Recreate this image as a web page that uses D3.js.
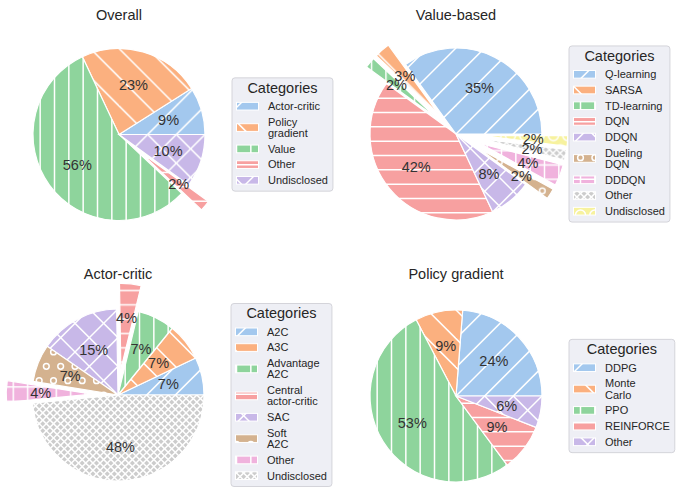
<!DOCTYPE html>
<html>
<head>
<meta charset="utf-8">
<script src="https://cdn.jsdelivr.net/npm/d3@7"></script>
<style>
  body { margin: 0; background: #fff; }
  text { font-family: "Liberation Sans", Arial, sans-serif; fill: #262626; }
</style>
</head>
<body>
<svg id="chart" width="680" height="494"></svg>
<script>
// shares (percent, counter-clockwise from 3 o'clock)
const overallCats = ["Actor-critic", "Policy\ngradient", "Value", "Other", "Undisclosed"];
const overallShares = [9, 23, 56, 2, 10];
const overallPulled = [0, 0, 0, 0.3, 0];

const valueCats = ["Q-learning", "SARSA", "TD-learning", "DQN", "DDQN", "Dueling\nDQN", "DDDQN", "Other", "Undisclosed"];
const valueShares = [35, 3, 2, 42, 8, 2, 4, 2, 2];
const valuePulled = [0, 0.3, 0.3, 0, 0, 0.3, 0.3, 0.3, 0.3];

const actorCats = ["A2C", "A3C", "Advantage\nA2C", "Central\nactor-critic", "SAC", "Soft\nA2C", "Other", "Undisclosed"];
const actorShares = [7, 7, 7, 4, 15, 7, 4, 48];
const actorPulled = [0, 0, 0, 0.3, 0, 0, 0.3, 0];

const policyCats = ["DDPG", "Monte\nCarlo", "PPO", "REINFORCE", "Other"];
const policyShares = [24, 9, 53, 9, 6];
const policyPulled = [0, 0, 0, 0, 0];

// seaborn-ish pastel colours + the hatch cycle used for the wedges
const palette = ["#a3c8ee", "#fbb07f", "#8ed49c", "#f7a0a0", "#c8b8e8", "#d4b28f", "#f0b2dd", "#cccccc", "#f7f29e"];
const hatches = ["/", "\\", "|", "-", "x", "o", "+", "xxxx", "O"];

const R = 86;   // pie radius
const U = 86;   // hatch tile ("one inch")

const svg = d3.select("#chart");
const defs = svg.append("defs");

function count(str, ch) { return str.split(ch).length - 1; }

// build a hatch pattern roughly the way matplotlib does it
function makePattern(i) {
  const h = hatches[i];
  const pat = defs.append("pattern")
    .attr("id", "h" + i)
    .attr("patternUnits", "userSpaceOnUse")
    .attr("width", U).attr("height", U);
  pat.append("rect").attr("width", U).attr("height", U).attr("fill", palette[i]);
  const g = pat.append("g").attr("stroke", "#fff").attr("stroke-width", 1.5).attr("fill", "none");
  const P = (x, y) => [x * U, (1 - y) * U];
  const seg = (a, b) => g.append("line")
    .attr("x1", a[0]).attr("y1", a[1]).attr("x2", b[0]).attr("y2", b[1]);

  let n = 6 * (count(h, "/") + count(h, "x"));
  for (let k = 0; k <= n && n > 0; k++) {
    const s = -0.5 + k / n;
    seg(P(s, -s), P(1 + s, 1 - s));
  }
  n = 6 * (count(h, "\\") + count(h, "x"));
  for (let k = 0; k <= n && n > 0; k++) {
    const s = -0.5 + k / n;
    seg(P(s, 1 + s), P(1 + s, s));
  }
  n = 6 * (count(h, "-") + count(h, "+"));
  for (let k = 0; k < n; k++) {
    const y = (k + 0.5) / n;
    seg(P(0, y), P(1, y));
  }
  n = 6 * (count(h, "|") + count(h, "+"));
  for (let k = 0; k < n; k++) {
    const x = (k + 0.5) / n;
    seg(P(x, 0), P(x, 1));
  }
  // small and large circles
  [["o", 0.2], ["O", 0.35]].forEach(function(c) {
    const rows = 6 * count(h, c[0]);
    if (!rows) return;
    const off = 1 / rows;
    for (let r = 0; r <= rows; r++) {
      const y = r / rows;
      const cols = r % 2 == 0
        ? d3.range(rows + 1).map(k => k / rows)
        : d3.range(rows).map(k => off / 2 + k * off);
      cols.forEach(function(x) {
        const p = P(x, y);
        g.append("circle").attr("cx", p[0]).attr("cy", p[1]).attr("r", off * c[1] * U);
      });
    }
  });
}
palette.forEach((c, i) => makePattern(i));

function drawLegend(x, cy, cats) {
  const rows = cats.map(c => c.split("\n"));
  const heights = rows.map(l => 15.7 + (l.length - 1) * 11.3);
  const H = 20.5 + d3.sum(heights) + 3;
  const top = cy - H / 2;

  const g = svg.append("g");
  const box = g.append("rect")
    .attr("x", x).attr("y", top)
    .attr("height", H)
    .attr("rx", 3)
    .attr("fill", "#eeeff5")
    .attr("stroke", "#d4d4da")
    .attr("stroke-width", 1);
  const title = g.append("text")
    .attr("y", top + 14.7)
    .attr("text-anchor", "middle")
    .style("font-size", "14.5px")
    .text("Categories");

  let y = top + 20.5;
  let maxW = 0;
  rows.forEach(function(lines, i) {
    const mid = y + heights[i] / 2;
    g.append("rect")
      .attr("x", x + 4.5).attr("y", mid - 3.85)
      .attr("width", 22).attr("height", 7.7)
      .attr("fill", "url(#h" + i + ")")
      .attr("stroke", "#fff").attr("stroke-width", 1);
    lines.forEach(function(t, j) {
      const txt = g.append("text")
        .attr("x", x + 36)
        .attr("y", mid + (j - (lines.length - 1) / 2) * 11.2)
        .attr("dy", "0.35em")
        .style("font-size", "11px")
        .text(t);
      maxW = Math.max(maxW, txt.node().getComputedTextLength());
    });
    y += heights[i];
  });
  const W = 36 + maxW + 5;
  box.attr("width", W);
  title.attr("x", x + W / 2);
}

function drawPie(name, cx, cy, titleY, cats, shares, pulled) {
  const data = shares.map((v, i) => ({ v: v, i: i, e: pulled[i] }));
  // matplotlib order: start at 3 o'clock, go counter-clockwise
  const pie = d3.pie().sort(null).value(d => d.v)
    .startAngle(Math.PI / 2).endAngle(Math.PI / 2 - 2 * Math.PI);
  const arc = d3.arc().innerRadius(0).outerRadius(R);
  const arcs = pie(data);

  const g = svg.append("g").attr("transform", "translate(" + cx + "," + cy + ")");
  const mid = d => (d.startAngle + d.endAngle) / 2;

  g.selectAll("path")
    .data(arcs)
    .enter()
    .append("path")
    .attr("d", arc)
    .attr("transform", d => "translate(" + (d.data.e * R * Math.sin(mid(d))) + "," + (-d.data.e * R * Math.cos(mid(d))) + ")")
    .attr("fill", d => "url(#h" + d.data.i + ")")
    .attr("stroke", "#fff")
    .attr("stroke-width", 1.2);

  g.selectAll("text.pct")
    .data(arcs)
    .enter()
    .append("text")
    .attr("class", "pct")
    .attr("x", d => (d.data.e + 0.6) * R * Math.sin(mid(d)))
    .attr("y", d => -(d.data.e + 0.6) * R * Math.cos(mid(d)))
    .attr("dy", "0.35em")
    .attr("text-anchor", "middle")
    .style("font-size", "14.5px")
    .style("fill", "#333")
    .text(d => d.data.v + "%");

  svg.append("text")
    .attr("x", cx)
    .attr("y", titleY)
    .attr("text-anchor", "middle")
    .style("font-size", "14.5px")
    .text(name);

  drawLegend(cx + 113, cy, cats);
}

drawPie("Overall", 119, 134.5, 19.5, overallCats, overallShares, overallPulled);
drawPie("Value-based", 456, 134, 19.5, valueCats, valueShares, valuePulled);
drawPie("Actor-critic", 118, 395, 279, actorCats, actorShares, actorPulled);
drawPie("Policy gradient", 456, 396, 279, policyCats, policyShares, policyPulled);
</script>
</body>
</html>
